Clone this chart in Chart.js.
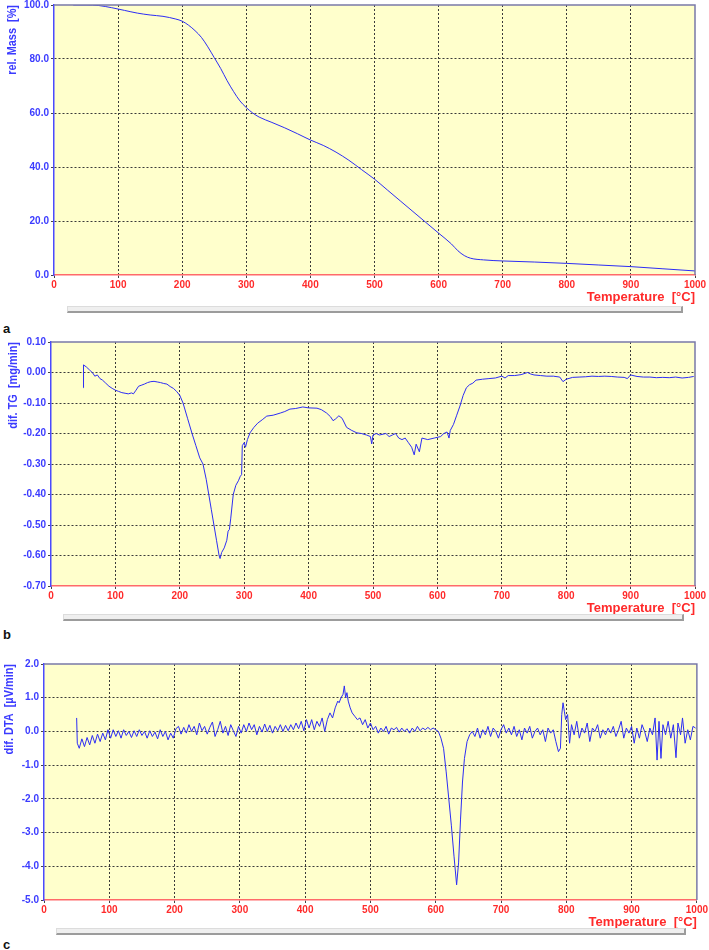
<!DOCTYPE html>
<html>
<head>
<meta charset="utf-8">
<script src="https://cdn.jsdelivr.net/npm/chart.js@4.4.0/dist/chart.umd.min.js"></script>
<style>
body { margin:0; background:#fff; width:709px; height:950px; position:relative; overflow:hidden; }
.box { position:absolute; left:0; width:709px; }
.bar { position:absolute; box-sizing:border-box; height:7px; background:#efefef; border:1px solid #dcdcdc; border-bottom:2px solid #9c9c9c; border-right:2px solid #9c9c9c; }
.tag { position:absolute; left:3px; font:bold 13px 'Liberation Sans', Arial, sans-serif; line-height:13px; color:#111; }
</style>
</head>
<body>
<div class="box" style="top:-5px;height:312px"><canvas id="tgChart"></canvas></div>
<div class="bar" style="left:67px;top:306px;width:616px"></div>
<div class="tag" style="top:322px">a</div>

<div class="box" style="top:332px;height:286px"><canvas id="dtgChart"></canvas></div>
<div class="bar" style="left:63px;top:614px;width:621px"></div>
<div class="tag" style="top:628px">b</div>

<div class="box" style="top:654px;height:278px"><canvas id="dtaChart"></canvas></div>
<div class="bar" style="left:56px;top:928px;width:630px"></div>
<div class="tag" style="top:938px">c</div>

<script>
// rel. mass (TG)
const tempTG = [30,50,70,90,110,130,150,170,190,200,210,220,230,240,250,260,270,280,290,300,310,320,340,360,380,400,420,440,460,480,500,520,540,560,580,600,620,630,640,650,670,700,750,800,850,900,950,1000];
const massTG = [100,100,99.8,99.0,98.0,97.0,96.3,95.8,94.8,94.0,92.5,90.5,88,84.5,80.5,76.5,72,68,64.5,62,60,58.5,56.5,54.5,52.3,50,48,45.5,42.5,39,35.5,31.5,27.5,23.5,19.5,15.5,11.5,9,7.2,6.2,5.6,5.2,4.8,4.3,3.7,3.1,2.3,1.5];

// dif. TG
const tempDTG = [50,50.5,55,60,65,68,72,76,80,85,90,95,100,105,110,115,120,125,128,132,136,140,145,150,155,160,165,170,175,180,185,190,195,200,205,212,219,225,231,236,241,245,249,253,257,261,262.5,265,269,273,275,277,279,283,287,291,294,296,297,300,302,305,309,315,321,328,335,345,356,363,371,380,391,400,413,420,428,434,438,442,447,452,459,467,475,482,490,496,498,500,505,510,520,525,530,535,540,545,550,555,560,564,567,572,576,585,595,605,610,615,618,620,625,630,635,640,645,650,655,660,670,680,690,700,705,710,720,730,740,745,750,760,770,780,790,795,800,810,820,830,840,850,860,870,880,890,895,900,910,920,930,940,950,960,970,980,990,998];
const valDTG = [-0.05,0.025,0.018,0.008,-0.002,-0.012,-0.008,-0.02,-0.025,-0.035,-0.045,-0.052,-0.058,-0.062,-0.066,-0.068,-0.07,-0.067,-0.07,-0.058,-0.045,-0.042,-0.038,-0.033,-0.03,-0.029,-0.031,-0.033,-0.036,-0.038,-0.046,-0.052,-0.062,-0.075,-0.10,-0.15,-0.20,-0.24,-0.28,-0.30,-0.35,-0.40,-0.45,-0.50,-0.55,-0.60,-0.61,-0.59,-0.575,-0.55,-0.52,-0.515,-0.48,-0.40,-0.37,-0.355,-0.34,-0.335,-0.24,-0.23,-0.245,-0.22,-0.198,-0.18,-0.166,-0.155,-0.143,-0.14,-0.133,-0.128,-0.12,-0.118,-0.113,-0.116,-0.117,-0.122,-0.133,-0.145,-0.158,-0.152,-0.142,-0.15,-0.18,-0.19,-0.198,-0.2,-0.205,-0.21,-0.234,-0.205,-0.2,-0.205,-0.2,-0.21,-0.205,-0.2,-0.215,-0.22,-0.215,-0.23,-0.245,-0.27,-0.235,-0.26,-0.215,-0.22,-0.215,-0.21,-0.2,-0.195,-0.215,-0.19,-0.17,-0.14,-0.11,-0.075,-0.05,-0.04,-0.035,-0.025,-0.022,-0.02,-0.018,-0.012,-0.018,-0.01,-0.01,-0.007,0.0,-0.005,-0.008,-0.01,-0.012,-0.012,-0.015,-0.03,-0.022,-0.016,-0.015,-0.014,-0.012,-0.013,-0.012,-0.013,-0.015,-0.016,-0.02,-0.008,-0.013,-0.015,-0.015,-0.017,-0.016,-0.017,-0.015,-0.018,-0.016,-0.013];

// dif. DTA
const tempDTA = [
  50,51,54,58,62,66,70,74,78,82,
  86,90,94,98,102,106,110,114,118,122,
  126,130,134,138,142,146,150,154,158,162,
  166,170,174,178,182,186,190,194,198,202,
  206,210,214,218,222,226,230,234,238,242,
  246,250,254,258,262,266,270,274,278,282,
  286,290,294,298,302,306,310,314,318,322,
  326,330,334,338,342,346,350,354,358,362,
  366,370,374,378,382,386,390,394,398,402,
  406,410,414,418,422,426,430,434,438,442,
  446,450,452,455,458,460,462,464,466,469,
  472,476,480,484,488,492,496,500,504,508,
  512,516,520,524,528,532,536,540,544,548,
  552,556,560,564,568,572,576,580,584,588,
  592,596,600,604,608,612,616,620,624,628,
  632,635,638,641,644,648,652,656,660,664,
  668,672,676,680,684,688,692,696,700,704,
  708,712,716,720,724,728,732,736,740,744,
  748,752,756,760,764,768,772,776,780,784,
  788,791,793,795,797,799,802,805,808,812,
  816,820,824,828,832,836,840,844,848,852,
  856,860,864,868,872,876,880,884,888,892,
  896,900,904,908,912,916,920,924,928,932,
  936,939,942,945,948,952,956,960,964,968,
  971,975,978,982,986,990,994,998
];
const valDTA = [
  0.4,-0.35,-0.5,-0.22,-0.45,-0.18,-0.4,-0.12,-0.35,-0.08,
  -0.3,-0.05,-0.25,0.05,-0.2,0.05,-0.15,0.02,-0.2,0.05,
  -0.12,0.0,-0.18,0.02,-0.15,0.05,-0.12,0.0,-0.2,0.02,
  -0.15,-0.02,-0.22,0.05,-0.15,0.0,-0.25,-0.05,-0.2,0.08,
  0.15,-0.08,0.12,-0.05,0.2,0.0,0.15,-0.1,0.25,0.02,
  0.15,-0.08,0.12,0.28,-0.15,0.05,0.3,-0.05,0.15,-0.12,
  0.2,0.02,-0.15,0.15,-0.05,0.2,0.0,0.25,0.05,0.2,
  -0.1,0.15,-0.02,0.22,0.0,0.18,-0.05,0.15,0.02,0.2,
  0.0,0.18,0.02,0.2,0.05,0.25,0.08,0.3,0.02,0.35,
  0.1,0.35,0.05,0.3,0.15,0.4,0.0,0.35,0.55,0.4,
  0.7,0.9,0.85,1.0,1.1,1.35,1.0,1.15,0.9,0.7,
  0.55,0.45,0.35,0.4,0.2,0.35,0.1,0.25,0.05,0.15,
  -0.05,0.1,0.0,0.15,-0.08,0.1,0.05,0.12,-0.02,0.1,
  0.0,0.08,-0.05,0.1,0.0,0.15,0.02,0.1,0.05,0.12,
  0.05,0.1,0.05,0.0,-0.2,-0.5,-1.2,-2.0,-2.8,-3.7,
  -4.55,-3.9,-2.6,-1.5,-0.8,-0.3,-0.1,0.0,-0.15,0.1,
  -0.2,0.05,-0.1,0.15,-0.15,0.1,0.0,-0.2,0.05,0.2,
  -0.05,0.1,-0.1,0.15,-0.15,0.05,-0.25,0.1,-0.05,0.15,
  -0.2,0.0,0.1,-0.1,0.05,-0.3,0.1,-0.05,0.05,-0.3,
  -0.6,-0.5,0.5,0.85,0.6,0.35,0.5,-0.35,0.2,-0.1,
  0.3,-0.2,0.1,-0.05,0.25,-0.3,0.1,0.0,0.2,-0.2,
  0.05,-0.1,0.1,-0.05,0.15,-0.15,0.05,0.3,-0.2,0.1,
  -0.05,0.15,-0.35,0.1,-0.2,0.2,0.0,-0.3,0.1,-0.1,
  0.4,-0.85,0.3,-0.8,0.2,-0.1,0.3,-0.2,0.2,-0.78,
  0.25,-0.1,0.4,-0.35,0.05,-0.25,0.15,0.1
];

const xTitle = 'Temperature  [°C]';
const BLUE = '#3b3bff';
const RED = '#ff2a2a';

Chart.defaults.font.family = "'Liberation Sans', Arial, sans-serif";
Chart.defaults.animation = false;

// yellow plot area, grey top/right frame, condensed vertical y title
const plotFrame = {
  id: 'plotFrame',
  beforeDraw(chart) {
    const { ctx, chartArea: a } = chart;
    ctx.save();
    ctx.fillStyle = '#ffffcc';
    ctx.fillRect(a.left, a.top, a.right - a.left, a.bottom - a.top);
    ctx.restore();
  },
  afterDraw(chart, args, opts) {
    const { ctx, chartArea: a } = chart;
    ctx.save();
    ctx.strokeStyle = '#7a7aa8';
    ctx.lineWidth = 1.5;
    ctx.beginPath();
    ctx.moveTo(a.left, a.top);
    ctx.lineTo(a.right, a.top);
    ctx.lineTo(a.right, a.bottom);
    ctx.stroke();
    ctx.restore();

    ctx.save();
    ctx.translate(opts.titleX, a.top);
    ctx.rotate(-Math.PI / 2);
    ctx.scale(0.84, 1);
    ctx.font = "bold 13px 'Liberation Sans', Arial, sans-serif";
    ctx.fillStyle = BLUE;
    ctx.textAlign = 'right';
    ctx.textBaseline = 'middle';
    ctx.fillText(opts.text, 0, 0);
    ctx.restore();
  }
};

function edgeless(c) {
  const n = c.scale.ticks.length;
  return (c.index === 0 || c.index === n - 1) ? 'rgba(0,0,0,0)' : '#3a3a3a';
}

function makePanel(id, temps, vals, yMin, yMax, yStep, digits, yTitle, axisWidth, padRight, titleX, smooth) {
  const pts = temps.map((t, i) => ({ x: t, y: vals[i] }));
  return new Chart(document.getElementById(id), {
    type: 'line',
    data: {
      datasets: [{
        data: pts,
        borderColor: 'rgb(45,45,245)',
        borderWidth: 1,
        pointRadius: 0,
        fill: false,
        cubicInterpolationMode: smooth ? 'monotone' : 'default',
        tension: 0
      }]
    },
    options: {
      responsive: true,
      maintainAspectRatio: false,
      layout: { padding: { top: 10, right: padRight, left: 0, bottom: 0 } },
      plugins: {
        legend: { display: false },
        tooltip: { enabled: false },
        plotFrame: { text: yTitle, titleX: titleX }
      },
      scales: {
        x: {
          type: 'linear',
          min: 0, max: 1000,
          afterFit: s => { s.height = 32; },
          border: { color: '#ff6a6a', width: 1.5, dash: [2, 2] },
          grid: { color: edgeless, lineWidth: 1, tickColor: '#444', tickLength: 3 },
          ticks: {
            stepSize: 100, autoSkip: false, maxRotation: 0, padding: 1,
            color: RED, font: { size: 10, weight: 'bold' },
            callback: v => String(v)
          },
          title: {
            display: true, text: xTitle, align: 'end',
            color: RED, font: { size: 13, weight: 'bold' },
            padding: { top: 0, bottom: 2 }
          }
        },
        y: {
          min: yMin, max: yMax,
          afterFit: s => { s.width = axisWidth; },
          border: { color: '#4a4aff', width: 1.5, dash: [2, 2] },
          grid: { color: edgeless, lineWidth: 1, tickColor: '#444', tickLength: 3 },
          ticks: {
            stepSize: yStep, padding: 2,
            color: BLUE, font: { size: 10, weight: 'bold' },
            callback: v => (Math.abs(v) < 1e-9 ? 0 : v).toFixed(digits)
          },
          title: { display: false }
        }
      }
    },
    plugins: [plotFrame]
  });
}

makePanel('tgChart', tempTG, massTG, 0, 100, 20, 1, 'rel. Mass  [%]', 54, 14, 12, true);
makePanel('dtgChart', tempDTG, valDTG, -0.7, 0.1, 0.1, 2, 'dif. TG  [mg/min]', 51, 14, 13, false);
makePanel('dtaChart', tempDTA, valDTA, -5, 2, 1, 1, 'dif. DTA  [µV/min]', 44, 12, 9, false);
</script>
</body>
</html>
